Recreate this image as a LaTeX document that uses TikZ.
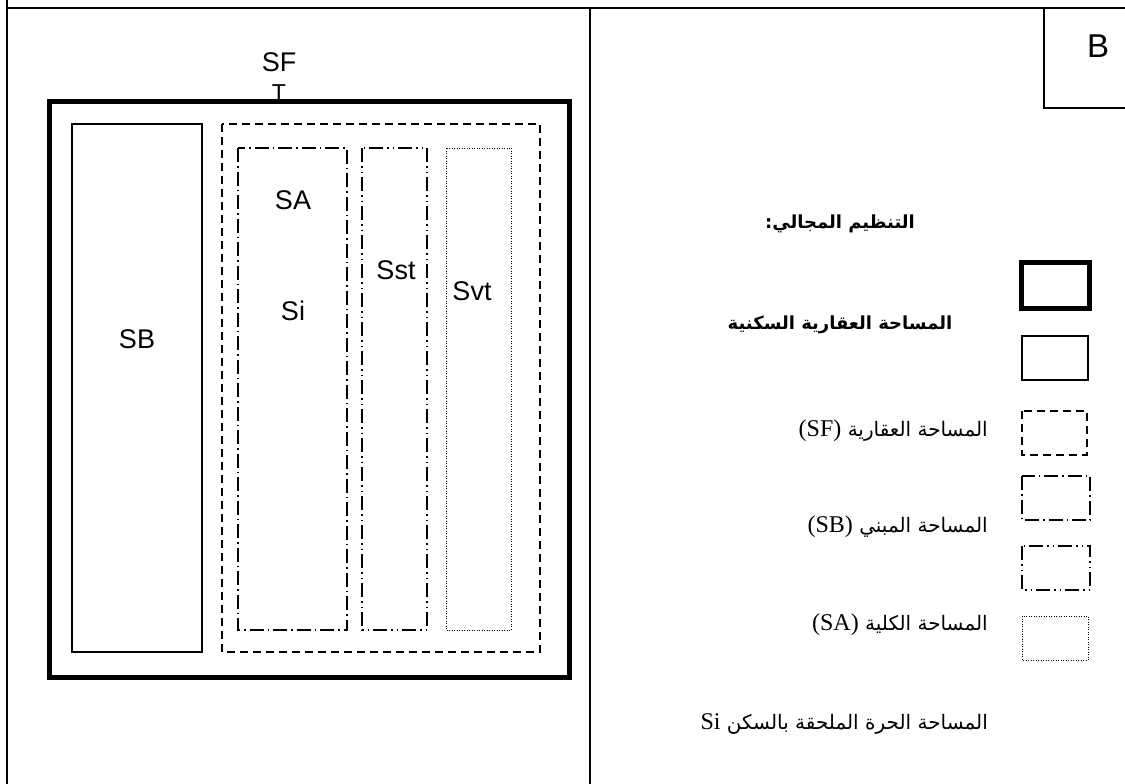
\documentclass[tikz,border=0pt]{standalone}
\usepackage{fontspec}
\setmainfont{Liberation Serif}
\newfontfamily\arabicfont[Script=Arabic]{DejaVu Sans}
\newfontfamily\latinsans{Liberation Sans}
\TeXXeTstate=1
\newcommand{\latpart}[1]{{\rmfamily\fontsize{24}{26}\selectfont\beginL #1\endL}}
\begin{document}
\begin{tikzpicture}[x=1pt,y=-1pt,
  frameline/.style={line width=1.5pt},
  thickbox/.style={line width=5pt},
  thinbox/.style={line width=1.3pt},
  dashbox/.style={line width=1.5pt,dash pattern=on 8pt off 5pt},
  dashdotbox/.style={line width=1.5pt,dash pattern=on 14pt off 4pt on 1.5pt off 4pt},
  dashdotdotbox/.style={line width=1.5pt,dash pattern=on 14pt off 4pt on 1.5pt off 4pt on 1.5pt off 4pt},
  dotbox/.style={line width=1pt,dash pattern=on 1pt off 1.5pt},
  lbl/.style={font=\latinsans\fontsize{27}{30}\selectfont,inner sep=0pt},
  artext/.style={font=\arabicfont\fontsize{20}{24}\selectfont,inner sep=0pt},
  arbold/.style={font=\arabicfont\bfseries\fontsize{18}{22}\selectfont,inner sep=0pt}
]
\useasboundingbox (0,0) rectangle (1125,784);
% table frame
\draw[frameline] (7,0) -- (7,784);
\draw[frameline] (7,8) -- (1125,8);
\draw[frameline] (590,8) -- (590,784);
\draw[frameline] (1044,8) -- (1044,108) -- (1125,108);
\node[font=\latinsans\fontsize{33}{36}\selectfont,inner sep=0pt] (B) at (1098,46) {B};

% left diagram
\draw[thickbox] (49,101) rectangle (569,677);
\node[lbl] (SF) at (279,62) {SF};
\node[font=\latinsans\fontsize{23}{26}\selectfont,inner sep=0pt,anchor=base] (T) at (279,100) {T};
\draw[thinbox] (72,124) rectangle (202,652);
\node[lbl] (SB) at (137,339) {SB};
\draw[dashbox] (222,124) rectangle (540,652);
\draw[dashdotbox] (238,148) rectangle (347,630);
\node[lbl] (SA) at (293,200) {SA};
\node[lbl] (Si) at (293,311) {Si};
\draw[dashdotdotbox] (362,148) rectangle (427,630);
\node[lbl] (Sst) at (396,270) {Sst};
\draw[dotbox] (446,148) rectangle (511,630);
\node[lbl] (Svt) at (472,291) {Svt};

% legend
\node[arbold] (head) at (840,224) {\beginR التنظيم المجالي:\endR};
\node[arbold] (res) at (840,325) {\beginR المساحة العقارية السكنية\endR};
\draw[thickbox] (1021,262) rectangle (1089,308);
\draw[thinbox] (1022,336) rectangle (1088,380);
\node[artext,anchor=east] (sf) at (988,431) {\beginR المساحة العقارية \latpart{(SF)}\endR};
\draw[dashbox] (1022,411) rectangle (1087,455);
\draw[dashdotbox] (1022,476) rectangle (1090,520);
\node[artext,anchor=east] (sb) at (988,527) {\beginR المساحة المبني \latpart{(SB)}\endR};
\draw[dashdotdotbox] (1022,546) rectangle (1090,590);
\draw[dotbox] (1022,616) rectangle (1088,660);
\node[artext,anchor=east] (sa) at (988,625) {\beginR المساحة الكلية \latpart{(SA)}\endR};
\node[artext,anchor=east] (si) at (988,724) {\beginR المساحة الحرة الملحقة بالسكن \latpart{Si}\endR};
\end{tikzpicture}
\end{document}
